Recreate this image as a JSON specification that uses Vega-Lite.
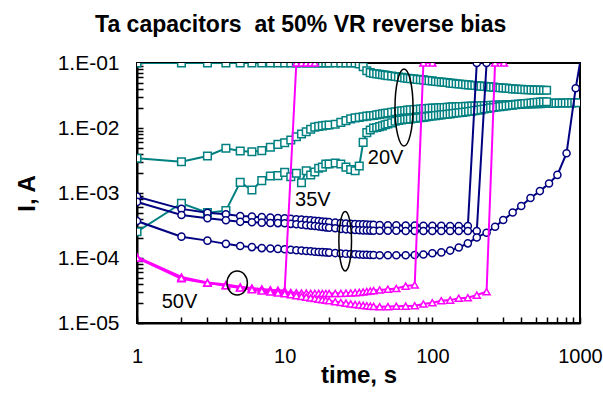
{
"$schema": "https://vega.github.io/schema/vega-lite/v6.json",
"width": 443, "height": 260,
"autosize": {"type": "none"},
"padding": {"left": 137, "top": 63, "right": 23, "bottom": 77},
"title": {"text": "Ta capacitors \u00a0at 50% VR reverse bias", "font": "Liberation Sans", "fontSize": 23, "fontWeight": "bold", "color": "#000", "anchor": "middle", "frame": "bounds", "offset": 15, "dx": -8},
"config": {"view": {"stroke": "#000", "strokeWidth": 2}, "font": "Liberation Sans"},
"datasets": {
"d": [
{"s":"A","t":1,"i":0.1},{"s":"A","t":2,"i":0.1},{"s":"A","t":3,"i":0.1},{"s":"A","t":4,"i":0.1},{"s":"A","t":5,"i":0.1},{"s":"A","t":6,"i":0.1},{"s":"A","t":7,"i":0.1},{"s":"A","t":8,"i":0.1},{"s":"A","t":9,"i":0.1},{"s":"A","t":10,"i":0.1},{"s":"A","t":11,"i":0.1},{"s":"A","t":12,"i":0.1},{"s":"A","t":13,"i":0.1},{"s":"A","t":14,"i":0.1},{"s":"A","t":15,"i":0.1},{"s":"A","t":16,"i":0.1},{"s":"A","t":17,"i":0.1},{"s":"A","t":18,"i":0.1},{"s":"A","t":19,"i":0.1},{"s":"A","t":20,"i":0.1},{"s":"A","t":22,"i":0.1},{"s":"A","t":24,"i":0.1},{"s":"A","t":26,"i":0.1},{"s":"A","t":28,"i":0.1},{"s":"A","t":30,"i":0.1},{"s":"A","t":32,"i":0.097},{"s":"A","t":34,"i":0.088},{"s":"A","t":36,"i":0.076},{"s":"A","t":38,"i":0.071},{"s":"A","t":40,"i":0.069},
{"s":"A","t":42,"i":0.068},{"s":"A","t":44,"i":0.067},{"s":"A","t":46,"i":0.066},{"s":"A","t":48,"i":0.065},{"s":"A","t":50,"i":0.064},{"s":"A","t":53,"i":0.063},{"s":"A","t":56,"i":0.062},{"s":"A","t":59,"i":0.061},{"s":"A","t":62,"i":0.06},{"s":"A","t":65,"i":0.059},{"s":"A","t":68,"i":0.058},{"s":"A","t":71,"i":0.0575},{"s":"A","t":75,"i":0.057},{"s":"A","t":79,"i":0.056},{"s":"A","t":83,"i":0.0555},{"s":"A","t":87,"i":0.055},{"s":"A","t":91,"i":0.054},{"s":"A","t":95,"i":0.0535},{"s":"A","t":100,"i":0.053},{"s":"A","t":105,"i":0.052},{"s":"A","t":110,"i":0.0515},{"s":"A","t":115,"i":0.051},{"s":"A","t":120,"i":0.0505},{"s":"A","t":126,"i":0.05},{"s":"A","t":132,"i":0.049},{"s":"A","t":138,"i":0.0485},{"s":"A","t":145,"i":0.048},{"s":"A","t":152,"i":0.0475},{"s":"A","t":160,"i":0.047},{"s":"A","t":168,"i":0.0465},{"s":"A","t":176,"i":0.046},{"s":"A","t":185,"i":0.0455},{"s":"A","t":194,"i":0.045},{"s":"A","t":204,"i":0.0445},{"s":"A","t":214,"i":0.044},{"s":"A","t":225,"i":0.0437},{"s":"A","t":236,"i":0.0433},{"s":"A","t":248,"i":0.043},{"s":"A","t":260,"i":0.0425},{"s":"A","t":273,"i":0.042},{"s":"A","t":287,"i":0.0417},{"s":"A","t":301,"i":0.0413},{"s":"A","t":316,"i":0.041},{"s":"A","t":332,"i":0.0405},{"s":"A","t":349,"i":0.04},{"s":"A","t":366,"i":0.0398},{"s":"A","t":384,"i":0.0395},{"s":"A","t":403,"i":0.0393},{"s":"A","t":423,"i":0.039},{"s":"A","t":444,"i":0.0388},{"s":"A","t":466,"i":0.0386},{"s":"A","t":489,"i":0.0385},{"s":"A","t":513,"i":0.0383},{"s":"A","t":539,"i":0.0382},{"s":"A","t":566,"i":0.038},{"s":"A","t":594,"i":0.038},
{"s":"B","t":1,"i":0.00342},{"s":"B","t":2,"i":0.00303},{"s":"B","t":3,"i":0.00371},{"s":"B","t":4,"i":0.00487},{"s":"B","t":5,"i":0.00443},{"s":"B","t":6,"i":0.00432},{"s":"B","t":7,"i":0.00448},{"s":"B","t":8,"i":0.00505},{"s":"B","t":9,"i":0.00561},{"s":"B","t":10,"i":0.00594},{"s":"B","t":11,"i":0.00653},{"s":"B","t":12,"i":0.00734},{"s":"B","t":13,"i":0.00809},{"s":"B","t":14,"i":0.00877},{"s":"B","t":15,"i":0.00955},{"s":"B","t":16,"i":0.0103},{"s":"B","t":17,"i":0.0106},{"s":"B","t":18,"i":0.0108},{"s":"B","t":19,"i":0.011},{"s":"B","t":20,"i":0.0111},{"s":"B","t":22,"i":0.0114},{"s":"B","t":24,"i":0.0122},{"s":"B","t":26,"i":0.013},{"s":"B","t":28,"i":0.0138},{"s":"B","t":30,"i":0.0143},{"s":"B","t":32,"i":0.0146},{"s":"B","t":34,"i":0.0149},{"s":"B","t":36,"i":0.0152},{"s":"B","t":38,"i":0.0154},{"s":"B","t":40,"i":0.0156},
{"s":"B","t":42,"i":0.0159},{"s":"B","t":44,"i":0.0162},{"s":"B","t":46,"i":0.0165},{"s":"B","t":48,"i":0.0168},{"s":"B","t":50,"i":0.017},{"s":"B","t":53,"i":0.0174},{"s":"B","t":56,"i":0.0178},{"s":"B","t":59,"i":0.0181},{"s":"B","t":62,"i":0.0184},{"s":"B","t":65,"i":0.0186},{"s":"B","t":68,"i":0.0188},{"s":"B","t":71,"i":0.019},{"s":"B","t":75,"i":0.0192},{"s":"B","t":79,"i":0.0194},{"s":"B","t":83,"i":0.0196},{"s":"B","t":87,"i":0.0198},{"s":"B","t":91,"i":0.0199},{"s":"B","t":95,"i":0.0201},{"s":"B","t":100,"i":0.0202},{"s":"B","t":105,"i":0.0203},{"s":"B","t":110,"i":0.0205},{"s":"B","t":115,"i":0.0206},{"s":"B","t":120,"i":0.0207},{"s":"B","t":126,"i":0.0208},{"s":"B","t":132,"i":0.021},{"s":"B","t":138,"i":0.0211},{"s":"B","t":145,"i":0.0212},{"s":"B","t":152,"i":0.0213},{"s":"B","t":160,"i":0.0214},{"s":"B","t":168,"i":0.0215},{"s":"B","t":176,"i":0.0216},{"s":"B","t":185,"i":0.0217},{"s":"B","t":194,"i":0.0218},{"s":"B","t":204,"i":0.0219},{"s":"B","t":214,"i":0.022},{"s":"B","t":225,"i":0.0221},{"s":"B","t":236,"i":0.0222},{"s":"B","t":248,"i":0.0223},{"s":"B","t":260,"i":0.0224},{"s":"B","t":273,"i":0.0225},{"s":"B","t":287,"i":0.0226},{"s":"B","t":301,"i":0.0227},{"s":"B","t":316,"i":0.0228},{"s":"B","t":332,"i":0.0229},{"s":"B","t":349,"i":0.023},{"s":"B","t":366,"i":0.0231},{"s":"B","t":384,"i":0.0232},{"s":"B","t":403,"i":0.0233},{"s":"B","t":423,"i":0.0234},{"s":"B","t":444,"i":0.0235},{"s":"B","t":466,"i":0.0235},{"s":"B","t":489,"i":0.0236},{"s":"B","t":513,"i":0.0237},{"s":"B","t":539,"i":0.0237},{"s":"B","t":566,"i":0.0238},{"s":"B","t":594,"i":0.0239},{"s":"B","t":624,"i":0.024},{"s":"B","t":655,"i":0.024},{"s":"B","t":688,"i":0.0241},{"s":"B","t":722,"i":0.0242},{"s":"B","t":758,"i":0.0242},{"s":"B","t":796,"i":0.0243},{"s":"B","t":836,"i":0.0244},{"s":"B","t":878,"i":0.0244},{"s":"B","t":922,"i":0.0245},{"s":"B","t":968,"i":0.0245},
{"s":"C","t":1,"i":0.000254},{"s":"C","t":2,"i":0.000695},{"s":"C","t":3,"i":0.000498},{"s":"C","t":4,"i":0.000535},{"s":"C","t":5,"i":0.00146},{"s":"C","t":6,"i":0.00111},{"s":"C","t":7,"i":0.00155},{"s":"C","t":8,"i":0.00183},{"s":"C","t":9,"i":0.00185},{"s":"C","t":10,"i":0.00208},{"s":"C","t":11,"i":0.00178},{"s":"C","t":12,"i":0.00201},{"s":"C","t":13,"i":0.00144},{"s":"C","t":14,"i":0.0022},{"s":"C","t":15,"i":0.00189},{"s":"C","t":16,"i":0.0021},{"s":"C","t":17,"i":0.0024},{"s":"C","t":18,"i":0.0025},{"s":"C","t":19,"i":0.0028},{"s":"C","t":20,"i":0.0028},{"s":"C","t":22,"i":0.0029},{"s":"C","t":24,"i":0.0028},{"s":"C","t":26,"i":0.0025},{"s":"C","t":28,"i":0.0023},{"s":"C","t":30,"i":0.0022},{"s":"C","t":32,"i":0.0026},{"s":"C","t":34,"i":0.006},{"s":"C","t":36,"i":0.0085},{"s":"C","t":38,"i":0.0093},{"s":"C","t":40,"i":0.01},
{"s":"C","t":42,"i":0.0102},{"s":"C","t":44,"i":0.0105},{"s":"C","t":46,"i":0.0108},{"s":"C","t":48,"i":0.0112},{"s":"C","t":50,"i":0.0115},{"s":"C","t":53,"i":0.012},{"s":"C","t":56,"i":0.0127},{"s":"C","t":59,"i":0.0131},{"s":"C","t":62,"i":0.0133},{"s":"C","t":65,"i":0.0135},{"s":"C","t":68,"i":0.0137},{"s":"C","t":71,"i":0.0138},{"s":"C","t":75,"i":0.014},{"s":"C","t":79,"i":0.0142},{"s":"C","t":83,"i":0.0144},{"s":"C","t":87,"i":0.0146},{"s":"C","t":91,"i":0.0148},{"s":"C","t":95,"i":0.015},{"s":"C","t":100,"i":0.0153},{"s":"C","t":105,"i":0.0155},{"s":"C","t":110,"i":0.0157},{"s":"C","t":115,"i":0.0159},{"s":"C","t":120,"i":0.0161},{"s":"C","t":126,"i":0.0163},{"s":"C","t":132,"i":0.0165},{"s":"C","t":138,"i":0.0167},{"s":"C","t":145,"i":0.017},{"s":"C","t":152,"i":0.0172},{"s":"C","t":160,"i":0.0174},{"s":"C","t":168,"i":0.0176},{"s":"C","t":176,"i":0.0179},{"s":"C","t":185,"i":0.0182},{"s":"C","t":194,"i":0.0185},{"s":"C","t":204,"i":0.0188},{"s":"C","t":214,"i":0.0192},{"s":"C","t":225,"i":0.0196},{"s":"C","t":236,"i":0.02},{"s":"C","t":248,"i":0.0204},{"s":"C","t":260,"i":0.0207},{"s":"C","t":273,"i":0.021},{"s":"C","t":287,"i":0.0213},{"s":"C","t":301,"i":0.0216},{"s":"C","t":316,"i":0.0219},{"s":"C","t":332,"i":0.0222},{"s":"C","t":349,"i":0.0225},{"s":"C","t":366,"i":0.0228},{"s":"C","t":384,"i":0.0231},{"s":"C","t":403,"i":0.0234},{"s":"C","t":423,"i":0.0237},{"s":"C","t":444,"i":0.024},{"s":"C","t":466,"i":0.0243},{"s":"C","t":489,"i":0.0246},{"s":"C","t":513,"i":0.0248},{"s":"C","t":539,"i":0.025},{"s":"C","t":566,"i":0.0252},{"s":"C","t":594,"i":0.0254},
{"s":"N1","t":1,"i":0.00088},{"s":"N1","t":2,"i":0.00057},{"s":"N1","t":3,"i":0.000498},{"s":"N1","t":4,"i":0.00047},{"s":"N1","t":5,"i":0.000443},{"s":"N1","t":6,"i":0.000435},{"s":"N1","t":7,"i":0.000425},{"s":"N1","t":8,"i":0.000418},{"s":"N1","t":9,"i":0.000412},{"s":"N1","t":10,"i":0.000408},{"s":"N1","t":11,"i":0.0004},{"s":"N1","t":12,"i":0.000395},{"s":"N1","t":13,"i":0.00039},{"s":"N1","t":14,"i":0.000385},{"s":"N1","t":15,"i":0.00038},{"s":"N1","t":16,"i":0.000375},{"s":"N1","t":17,"i":0.00037},{"s":"N1","t":18,"i":0.000365},{"s":"N1","t":19,"i":0.00036},{"s":"N1","t":20,"i":0.000356},{"s":"N1","t":22,"i":0.00035},{"s":"N1","t":24,"i":0.000345},{"s":"N1","t":26,"i":0.00034},{"s":"N1","t":28,"i":0.000337},{"s":"N1","t":30,"i":0.000334},{"s":"N1","t":32,"i":0.000331},{"s":"N1","t":34,"i":0.000329},{"s":"N1","t":36,"i":0.000327},{"s":"N1","t":38,"i":0.000325},{"s":"N1","t":40,"i":0.000323},{"s":"N1","t":44,"i":0.000322},{"s":"N1","t":50,"i":0.00032},{"s":"N1","t":57,"i":0.000318},{"s":"N1","t":66,"i":0.000316},{"s":"N1","t":76,"i":0.000315},{"s":"N1","t":87,"i":0.000314},{"s":"N1","t":100,"i":0.000313},{"s":"N1","t":115,"i":0.000312},{"s":"N1","t":132,"i":0.000311},{"s":"N1","t":151,"i":0.00031},{"s":"N1","t":174,"i":0.00031},{"s":"N1","t":200,"i":0.1},
{"s":"N2","t":1,"i":0.00073},{"s":"N2","t":2,"i":0.00046},{"s":"N2","t":3,"i":0.000408},{"s":"N2","t":4,"i":0.00038},{"s":"N2","t":5,"i":0.00036},{"s":"N2","t":6,"i":0.000355},{"s":"N2","t":7,"i":0.00035},{"s":"N2","t":8,"i":0.000346},{"s":"N2","t":9,"i":0.000344},{"s":"N2","t":10,"i":0.000342},{"s":"N2","t":11,"i":0.000335},{"s":"N2","t":12,"i":0.00033},{"s":"N2","t":13,"i":0.000325},{"s":"N2","t":14,"i":0.00032},{"s":"N2","t":15,"i":0.000315},{"s":"N2","t":16,"i":0.00031},{"s":"N2","t":17,"i":0.000305},{"s":"N2","t":18,"i":0.0003},{"s":"N2","t":19,"i":0.000296},{"s":"N2","t":20,"i":0.000292},{"s":"N2","t":22,"i":0.000286},{"s":"N2","t":24,"i":0.00028},{"s":"N2","t":26,"i":0.000276},{"s":"N2","t":28,"i":0.000273},{"s":"N2","t":30,"i":0.00027},{"s":"N2","t":32,"i":0.000268},{"s":"N2","t":34,"i":0.000266},{"s":"N2","t":36,"i":0.000265},{"s":"N2","t":38,"i":0.000264},{"s":"N2","t":40,"i":0.000263},{"s":"N2","t":44,"i":0.000263},{"s":"N2","t":50,"i":0.000262},{"s":"N2","t":57,"i":0.000262},{"s":"N2","t":66,"i":0.000261},{"s":"N2","t":76,"i":0.000261},{"s":"N2","t":87,"i":0.00026},{"s":"N2","t":100,"i":0.00026},{"s":"N2","t":115,"i":0.00026},{"s":"N2","t":132,"i":0.00026},{"s":"N2","t":151,"i":0.00026},{"s":"N2","t":174,"i":0.00026},{"s":"N2","t":200,"i":0.00026},{"s":"N2","t":233,"i":0.1},
{"s":"N3","t":1,"i":0.00037},{"s":"N3","t":2,"i":0.000213},{"s":"N3","t":3,"i":0.000185},{"s":"N3","t":4,"i":0.000165},{"s":"N3","t":5,"i":0.000153},{"s":"N3","t":6,"i":0.000147},{"s":"N3","t":7,"i":0.000142},{"s":"N3","t":8,"i":0.00014},{"s":"N3","t":9,"i":0.000138},{"s":"N3","t":10,"i":0.000136},{"s":"N3","t":11,"i":0.000134},{"s":"N3","t":12,"i":0.000132},{"s":"N3","t":13,"i":0.00013},{"s":"N3","t":14,"i":0.000128},{"s":"N3","t":15,"i":0.000127},{"s":"N3","t":16,"i":0.000125},{"s":"N3","t":17,"i":0.000124},{"s":"N3","t":18,"i":0.000123},{"s":"N3","t":19,"i":0.000122},{"s":"N3","t":20,"i":0.000121},{"s":"N3","t":22,"i":0.000119},{"s":"N3","t":24,"i":0.000117},{"s":"N3","t":26,"i":0.000116},{"s":"N3","t":28,"i":0.000115},{"s":"N3","t":30,"i":0.000114},{"s":"N3","t":32,"i":0.000113},{"s":"N3","t":34,"i":0.000112},{"s":"N3","t":36,"i":0.000112},{"s":"N3","t":38,"i":0.000111},{"s":"N3","t":40,"i":0.000111},{"s":"N3","t":44,"i":0.00011},{"s":"N3","t":50,"i":0.00011},{"s":"N3","t":57,"i":0.00011},{"s":"N3","t":66,"i":0.00011},{"s":"N3","t":76,"i":0.000111},{"s":"N3","t":87,"i":0.000113},{"s":"N3","t":100,"i":0.000118},{"s":"N3","t":115,"i":0.000122},{"s":"N3","t":132,"i":0.00013},{"s":"N3","t":151,"i":0.000145},{"s":"N3","t":174,"i":0.000168},{"s":"N3","t":200,"i":0.000207},{"s":"N3","t":233,"i":0.000245},{"s":"N3","t":266,"i":0.000303},{"s":"N3","t":302,"i":0.000385},{"s":"N3","t":350,"i":0.0005},{"s":"N3","t":400,"i":0.00063},{"s":"N3","t":462,"i":0.00084},{"s":"N3","t":535,"i":0.00107},{"s":"N3","t":617,"i":0.0014},{"s":"N3","t":703,"i":0.0019},{"s":"N3","t":811,"i":0.0041},{"s":"N3","t":935,"i":0.041},{"s":"N3","t":1072,"i":0.25},
{"s":"M1","t":1,"i":0.000104},{"s":"M1","t":2,"i":0.000051},{"s":"M1","t":3,"i":0.000042},{"s":"M1","t":4,"i":0.000039},{"s":"M1","t":5,"i":0.000036},{"s":"M1","t":6,"i":0.0000345},{"s":"M1","t":7,"i":0.0000335},{"s":"M1","t":8,"i":0.0000325},{"s":"M1","t":9,"i":0.000032},{"s":"M1","t":10,"i":0.0000315},{"s":"M1","t":12,"i":0.1},{"s":"M1","t":13,"i":0.1},{"s":"M1","t":14,"i":0.1},{"s":"M1","t":15,"i":0.1},{"s":"M1","t":16,"i":0.1},
{"s":"M2","t":1,"i":0.0001},{"s":"M2","t":2,"i":0.000048},{"s":"M2","t":3,"i":0.000041},{"s":"M2","t":4,"i":0.000038},{"s":"M2","t":5,"i":0.000035},{"s":"M2","t":6,"i":0.0000335},{"s":"M2","t":7,"i":0.0000325},{"s":"M2","t":8,"i":0.0000315},{"s":"M2","t":9,"i":0.0000305},{"s":"M2","t":10,"i":0.00003},{"s":"M2","t":11,"i":0.0000295},{"s":"M2","t":12,"i":0.0000292},{"s":"M2","t":13,"i":0.000029},{"s":"M2","t":14,"i":0.0000288},{"s":"M2","t":15,"i":0.0000286},{"s":"M2","t":16,"i":0.0000285},{"s":"M2","t":17,"i":0.0000285},{"s":"M2","t":18,"i":0.0000284},{"s":"M2","t":19,"i":0.0000284},{"s":"M2","t":20,"i":0.0000284},{"s":"M2","t":22,"i":0.0000285},{"s":"M2","t":24,"i":0.0000286},{"s":"M2","t":26,"i":0.0000288},{"s":"M2","t":28,"i":0.000029},{"s":"M2","t":30,"i":0.0000293},{"s":"M2","t":32,"i":0.0000296},{"s":"M2","t":34,"i":0.00003},{"s":"M2","t":36,"i":0.0000305},{"s":"M2","t":38,"i":0.000031},{"s":"M2","t":40,"i":0.0000315},{"s":"M2","t":44,"i":0.0000322},{"s":"M2","t":50,"i":0.000033},{"s":"M2","t":57,"i":0.000034},{"s":"M2","t":66,"i":0.000037},{"s":"M2","t":76,"i":0.0000385},{"s":"M2","t":87,"i":0.1},{"s":"M2","t":100,"i":0.1},
{"s":"M3","t":1,"i":0.0001},{"s":"M3","t":2,"i":0.000049},{"s":"M3","t":3,"i":0.0000415},{"s":"M3","t":4,"i":0.0000375},{"s":"M3","t":5,"i":0.0000345},{"s":"M3","t":6,"i":0.0000325},{"s":"M3","t":7,"i":0.000031},{"s":"M3","t":8,"i":0.00003},{"s":"M3","t":9,"i":0.000029},{"s":"M3","t":10,"i":0.0000282},{"s":"M3","t":11,"i":0.0000272},{"s":"M3","t":12,"i":0.0000264},{"s":"M3","t":13,"i":0.0000256},{"s":"M3","t":14,"i":0.000025},{"s":"M3","t":15,"i":0.0000244},{"s":"M3","t":16,"i":0.0000238},{"s":"M3","t":17,"i":0.0000233},{"s":"M3","t":18,"i":0.0000228},{"s":"M3","t":19,"i":0.0000224},{"s":"M3","t":20,"i":0.000022},{"s":"M3","t":22,"i":0.0000213},{"s":"M3","t":24,"i":0.0000207},{"s":"M3","t":26,"i":0.0000202},{"s":"M3","t":28,"i":0.0000197},{"s":"M3","t":30,"i":0.0000193},{"s":"M3","t":32,"i":0.000019},{"s":"M3","t":34,"i":0.0000187},{"s":"M3","t":36,"i":0.0000184},{"s":"M3","t":38,"i":0.0000182},{"s":"M3","t":40,"i":0.000018},{"s":"M3","t":44,"i":0.0000178},{"s":"M3","t":50,"i":0.0000179},{"s":"M3","t":57,"i":0.0000181},{"s":"M3","t":66,"i":0.0000182},{"s":"M3","t":76,"i":0.0000184},{"s":"M3","t":87,"i":0.0000196},{"s":"M3","t":100,"i":0.0000205},{"s":"M3","t":115,"i":0.000022},{"s":"M3","t":132,"i":0.0000225},{"s":"M3","t":151,"i":0.000024},{"s":"M3","t":174,"i":0.0000245},{"s":"M3","t":200,"i":0.0000269},{"s":"M3","t":233,"i":0.0000303},{"s":"M3","t":266,"i":0.1},{"s":"M3","t":305,"i":0.1}
],
"lab": [{"t":36.6,"i":0.003455,"label":"20V"},{"t":11.75,"i":0.000788,"label":"35V"},{"t":1.47,"i":0.0000207,"label":"50V"}]
},
"encoding": {
"x": {"field": "t", "type": "quantitative", "scale": {"type": "log", "domain": [1, 1000], "nice": false},
 "axis": {"values": [1,2,3,4,5,6,7,8,9,10,20,30,40,50,60,70,80,90,100,200,300,400,500,600,700,800,900,1000],
  "labelExpr": "abs(log(datum.value)/LN10-round(log(datum.value)/LN10))<0.000001 ? format(datum.value,'d') : ''",
  "labelOverlap": false, "labelFlush": false, "labelFontSize": 20, "labelColor": "#000", "labelPadding": 29,
  "ticks": true, "tickSize": -6,
  "tickColor": "#000", "tickWidth": 1.5, "domainColor": "#000", "domainWidth": 2, "grid": false,
  "title": "time, s", "titleFontSize": 24, "titleFontWeight": "bold", "titleColor": "#000", "titlePadding": -3}},
"y": {"field": "i", "type": "quantitative", "scale": {"type": "log", "domain": [0.00001, 0.1], "nice": false},
 "axis": {"values": [0.00001,0.00002,0.00003,0.00004,0.00005,0.00006,0.00007,0.00008,0.00009,0.0001,0.0002,0.0003,0.0004,0.0005,0.0006,0.0007,0.0008,0.0009,0.001,0.002,0.003,0.004,0.005,0.006,0.007,0.008,0.009,0.01,0.02,0.03,0.04,0.05,0.06,0.07,0.08,0.09,0.1],
  "labelExpr": "abs(log(datum.value)/LN10-round(log(datum.value)/LN10))<0.000001 ? '1.E-0' + format(-log(datum.value)/LN10, '.0f') : ''",
  "labelOverlap": false, "labelFlush": false, "labelFontSize": 21, "labelColor": "#000", "labelPadding": 24,
  "ticks": true, "tickSize": -6,
  "tickColor": "#000", "tickWidth": 1.5, "domainColor": "#000", "domainWidth": 2, "grid": false,
  "title": "I, A", "titleFontSize": 24, "titleFontWeight": "bold", "titleColor": "#000", "titlePadding": 18}}
},
"layer": [
{"data": {"name": "d"}, "transform": [{"filter": {"field": "s", "oneOf": ["A","B","C"]}}], "mark": {"type": "line", "color": "#008080", "strokeWidth": 2, "clip": true}, "encoding": {"detail": {"field": "s"}}},
{"data": {"name": "d"}, "transform": [{"filter": {"field": "s", "oneOf": ["A","B","C"]}}], "mark": {"type": "point", "shape": "square", "size": 58, "filled": true, "fill": "white", "stroke": "#008080", "strokeWidth": 1.5, "opacity": 1, "clip": true}},
{"data": {"name": "d"}, "transform": [{"filter": {"field": "s", "oneOf": ["N1","N2","N3"]}}], "mark": {"type": "line", "color": "#000080", "strokeWidth": 2, "clip": true}, "encoding": {"detail": {"field": "s"}}},
{"data": {"name": "d"}, "transform": [{"filter": {"field": "s", "oneOf": ["N1","N2","N3"]}}], "mark": {"type": "point", "shape": "circle", "size": 50, "filled": true, "fill": "white", "stroke": "#000080", "strokeWidth": 1.5, "opacity": 1, "clip": true}},
{"data": {"name": "d"}, "transform": [{"filter": {"field": "s", "oneOf": ["M1","M2","M3"]}}], "mark": {"type": "line", "color": "#FF00FF", "strokeWidth": 2, "clip": true}, "encoding": {"detail": {"field": "s"}}},
{"data": {"name": "d"}, "transform": [{"filter": {"field": "s", "oneOf": ["M1","M2","M3"]}}], "mark": {"type": "point", "shape": "triangle-up", "size": 50, "filled": true, "fill": "white", "stroke": "#FF00FF", "strokeWidth": 1.5, "opacity": 1, "clip": true}},
{"data": {"values": [{"t": 64.3, "i": 0.0207}]}, "mark": {"type": "point", "shape": "M0,-1C0.129,-1,0.234,-0.552,0.234,0C0.234,0.552,0.129,1,0,1C-0.129,1,-0.234,0.552,-0.234,0C-0.234,-0.552,-0.129,-1,0,-1Z", "size": 5929, "filled": false, "stroke": "#000", "strokeWidth": 1.5, "opacity": 1}},
{"data": {"values": [{"t": 25.7, "i": 0.000181}]}, "mark": {"type": "point", "shape": "M0,-1C0.118,-1,0.213,-0.552,0.213,0C0.213,0.552,0.118,1,0,1C-0.118,1,-0.213,0.552,-0.213,0C-0.213,-0.552,-0.118,-1,0,-1Z", "size": 3528, "filled": false, "stroke": "#000", "strokeWidth": 1.5, "opacity": 1}},
{"data": {"values": [{"t": 4.77, "i": 0.0000412}]}, "mark": {"type": "point", "shape": "M0,-1C0.469,-1,0.85,-0.552,0.85,0C0.85,0.552,0.469,1,0,1C-0.469,1,-0.85,0.552,-0.85,0C-0.85,-0.552,-0.469,-1,0,-1Z", "size": 576, "filled": false, "stroke": "#000", "strokeWidth": 1.5, "opacity": 1}},
{"data": {"name": "lab"}, "mark": {"type": "text", "align": "left", "baseline": "middle", "fontSize": 20, "font": "Liberation Sans", "color": "#000"}, "encoding": {"text": {"field": "label"}}}
]
}
